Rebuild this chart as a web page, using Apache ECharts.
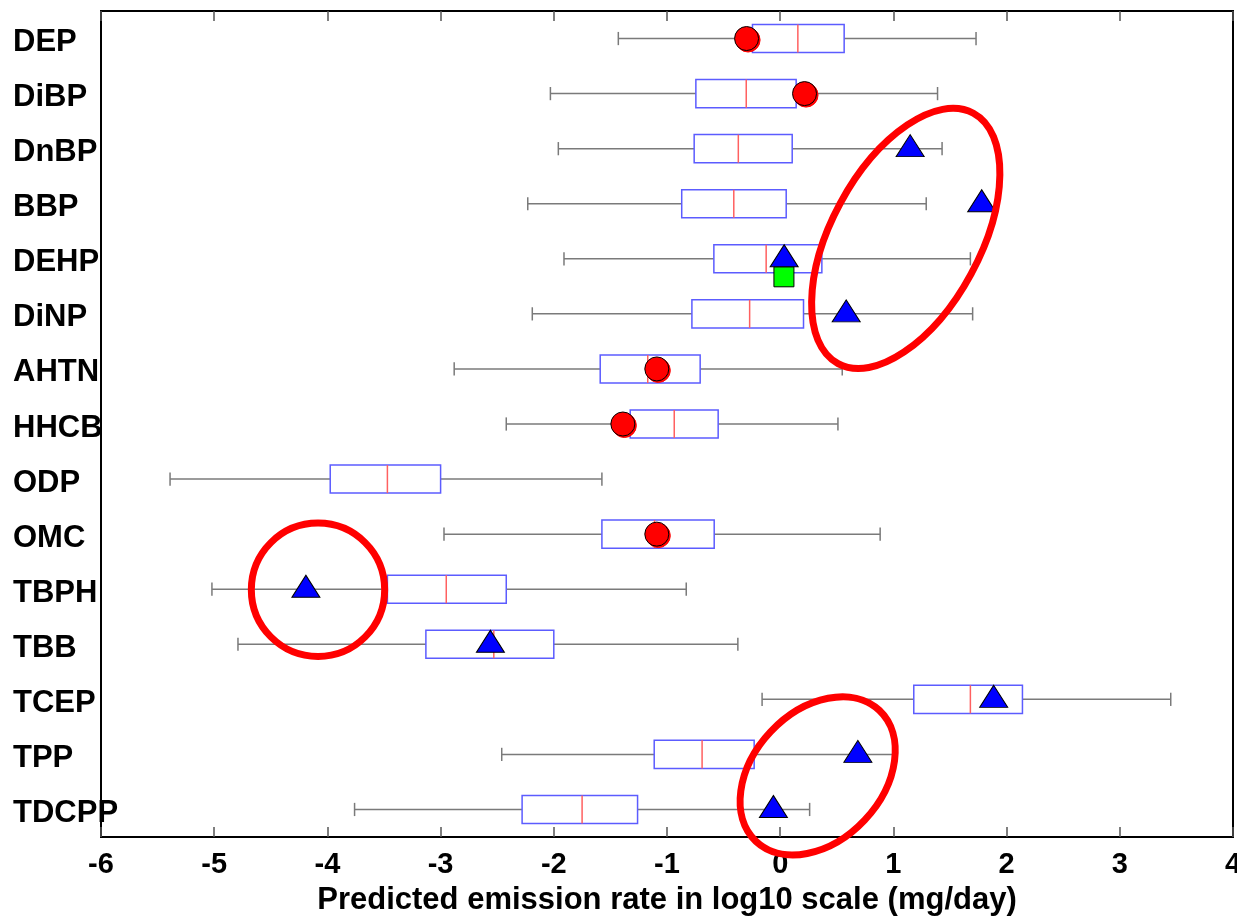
<!DOCTYPE html>
<html>
<head>
<meta charset="utf-8">
<script src="https://cdn.jsdelivr.net/npm/echarts@6/dist/echarts.min.js"></script>
<style>
  html,body{margin:0;padding:0;background:#fff;}
  #chart{width:1237px;height:921px;}
</style>
</head>
<body>
<div id="chart"></div>
<script>
  // compounds, top to bottom
  var categories=['DEP','DiBP','DnBP','BBP','DEHP','DiNP','AHTN','HHCB','ODP','OMC','TBPH','TBB','TCEP','TPP','TDCPP'];

  // box plot statistics (log10 mg/day)
  var whiskerLow =[-1.43,-2.03,-1.96,-2.23,-1.91,-2.19,-2.88,-2.42,-5.39,-2.97,-5.02,-4.79,-0.16,-2.46,-3.76];
  var q1         =[-0.245,-0.745,-0.76,-0.87,-0.586,-0.78,-1.59,-1.325,-3.975,-1.575,-3.47,-3.13,1.18,-1.113,-2.28];
  var median     =[0.156,-0.30,-0.37,-0.41,-0.124,-0.27,-1.17,-0.936,-3.47,-1.11,-2.95,-2.53,1.68,-0.69,-1.75];
  var q3         =[0.565,0.141,0.106,0.053,0.368,0.206,-0.707,-0.548,-3.0,-0.583,-2.42,-2.0,2.14,-0.23,-1.26];
  var whiskerHigh=[1.73,1.39,1.43,1.29,1.68,1.70,0.548,0.51,-1.575,0.883,-0.83,-0.374,3.45,1.0,0.26];

  // measured / reported values drawn as markers (null = none)
  var circleVals  =[-0.297,0.215,null,null,null,null,-1.09,-1.39,null,-1.09,null,null,null,null,null];
  var triangleVals=[null,null,1.148,1.78,0.035,0.583,null,null,null,null,-4.19,-2.56,1.886,0.686,-0.06];
  var squareVals  =[null,null,null,null,0.033,null,null,null,null,null,null,null,null,null,null];

  // red rings: [x, row, semi axis a, semi axis b (x units), angle deg]
  var rings=[
    [1.109,3.63,1.257,0.657,61.6],
    [-4.083,10.01,0.589,0.589,0],
    [0.331,13.39,0.795,0.570,46.7]
  ];

  var boxData=[];
  for(var i=0;i<categories.length;i++) {
    boxData.push([i,whiskerLow[i],q1[i],median[i],q3[i],whiskerHigh[i]]);
  }
  function points(vals) {
    var res=[];
    for(var i=0;i<vals.length;i++) {
      if(vals[i]!==null) res.push([vals[i],i]);
    }
    return res;
  }

  var labelFont='Liberation Sans, Arial, sans-serif';

  function renderBox(params,api) {
    var row=api.value(0);
    var pLow=api.coord([api.value(1),row]);
    var pQ1=api.coord([api.value(2),row]);
    var pMed=api.coord([api.value(3),row]);
    var pQ3=api.coord([api.value(4),row]);
    var pHigh=api.coord([api.value(5),row]);
    var band=api.size([0,1])[1];
    var h=band*0.255;
    var c=band*0.12;
    var y=pMed[1];
    var gray={stroke:'#7a7a7a',lineWidth:1.5};
    return {
      type:'group',
      children:[
        {type:'line',shape:{x1:pLow[0],y1:y,x2:pQ1[0],y2:y},style:gray},
        {type:'line',shape:{x1:pQ3[0],y1:y,x2:pHigh[0],y2:y},style:gray},
        {type:'line',shape:{x1:pLow[0],y1:y-c,x2:pLow[0],y2:y+c},style:gray},
        {type:'line',shape:{x1:pHigh[0],y1:y-c,x2:pHigh[0],y2:y+c},style:gray},
        {type:'rect',shape:{x:pQ1[0],y:y-h,width:pQ3[0]-pQ1[0],height:2*h},style:{fill:'#fff',stroke:'#5c5cff',lineWidth:1.5}},
        {type:'line',shape:{x1:pMed[0],y1:y-h,x2:pMed[0],y2:y+h},style:{stroke:'#ff6060',lineWidth:1.5}}
      ]
    };
  }

  function renderRing(params,api) {
    // rows can be fractional, so step between category centres by hand
    var p0=api.coord([api.value(0),0]);
    var p1=api.coord([api.value(0),1]);
    var cy=p0[1]+api.value(1)*(p1[1]-p0[1]);
    var unit=api.coord([1,0])[0]-api.coord([0,0])[0];
    return {
      type:'ellipse',
      x:p0[0],
      y:cy,
      rotation:api.value(4)*Math.PI/180,
      shape:{cx:0,cy:0,rx:api.value(2)*unit,ry:api.value(3)*unit},
      style:{fill:'none',stroke:'#ff0000',lineWidth:7}
    };
  }

  var option={
    animation:false,
    backgroundColor:'#fff',
    grid:{left:101,right:4,top:11,bottom:84,outerBoundsMode:'none',containLabel:false,show:true,borderColor:'#000',borderWidth:2,backgroundColor:'transparent'},
    xAxis:[{
      type:'value',
      min:-6,
      max:4,
      interval:1,
      name:'Predicted emission rate in log10 scale (mg/day)',
      nameLocation:'middle',
      nameGap:48,
      nameTextStyle:{fontFamily:labelFont,fontWeight:'bold',fontSize:31,color:'#000'},
      axisLine:{show:false},
      axisTick:{show:true,inside:true,length:10,lineStyle:{color:'#555',width:1.5}},
      axisLabel:{fontFamily:labelFont,fontWeight:'bold',fontSize:29,color:'#000',margin:13,showMaxLabel:true,showMinLabel:true},
      splitLine:{show:false}
    },{
      type:'value',
      position:'top',
      min:-6,
      max:4,
      interval:1,
      axisLine:{show:false},
      axisTick:{show:true,inside:true,length:10,lineStyle:{color:'#555',width:1.5}},
      axisLabel:{show:false},
      splitLine:{show:false}
    }],
    yAxis:{
      type:'category',
      data:categories,
      inverse:true,
      axisLine:{show:false},
      axisTick:{show:false},
      axisLabel:{fontFamily:labelFont,fontWeight:'bold',fontSize:31,color:'#000',align:'left',margin:88,verticalAlign:'top',lineHeight:8},
      splitLine:{show:false}
    },
    series:[
      {
        type:'custom',
        name:'box',
        renderItem:renderBox,
        encode:{x:[1,2,3,4,5],y:0},
        data:boxData,
        silent:true,
        z:2
      },
      {
        type:'scatter',
        name:'circle',
        symbol:'circle',
        symbolSize:24,
        itemStyle:{color:'#ff0000',borderColor:'#000',borderWidth:1,shadowColor:'#ff0000',shadowOffsetX:1.5,shadowOffsetY:1.5,shadowBlur:0,opacity:1},
        data:points(circleVals),
        z:3
      },
      {
        type:'scatter',
        name:'square',
        symbol:'rect',
        symbolSize:20,
        symbolOffset:[0,18],
        itemStyle:{color:'#00ff00',borderColor:'#000',borderWidth:1,opacity:1},
        data:points(squareVals),
        z:3
      },
      {
        type:'scatter',
        name:'triangle',
        symbol:'triangle',
        symbolSize:[28,22],
        symbolOffset:[0,-3],
        itemStyle:{color:'#0000ff',borderColor:'#000',borderWidth:1,opacity:1},
        data:points(triangleVals),
        z:4
      },
      {
        type:'custom',
        name:'rings',
        renderItem:renderRing,
        dimensions:[{name:'x',type:'float'},{name:'row',type:'float'},{name:'a',type:'float'},{name:'b',type:'float'},{name:'angle',type:'float'}],
        encode:{x:0},
        data:rings,
        silent:true,
        z:5
      }
    ]
  };

  var chart=echarts.init(document.getElementById('chart'));
  chart.setOption(option);
</script>
</body>
</html>
